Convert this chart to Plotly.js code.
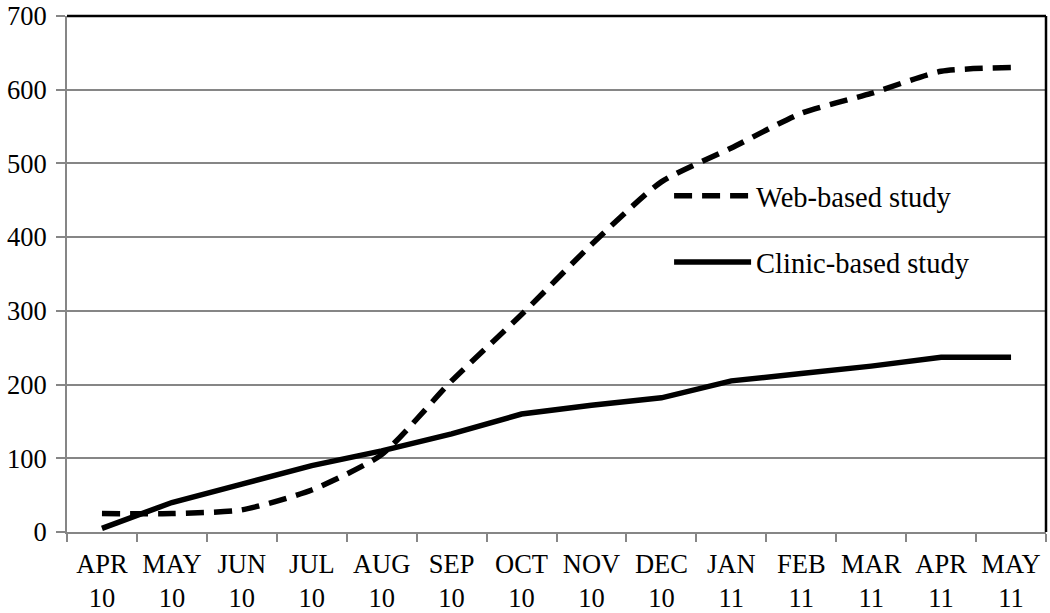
<!DOCTYPE html>
<html>
<head>
<meta charset="utf-8">
<script src="https://cdn.plot.ly/plotly-3.0.1.min.js"></script>
<style>html,body{margin:0;padding:0;background:#fff;}#chart{width:1050px;height:613px;}</style>
</head>
<body>
<div id="chart"></div>
<script>
const months = ["APR<br>10","MAY<br>10","JUN<br>10","JUL<br>10","AUG<br>10","SEP<br>10","OCT<br>10","NOV<br>10","DEC<br>10","JAN<br>11","FEB<br>11","MAR<br>11","APR<br>11","MAY<br>11"];
const webBased = [25, 25, 30, 57, 105, 205, 295, 390, 475, 521, 568, 595, 625, 630];
const clinicBased = [5, 40, 65, 90, 110, 133, 160, 172, 182, 205, 215, 225, 237, 237];
const yTicks = [0, 100, 200, 300, 400, 500, 600, 700];

const font = "Liberation Serif";
const traces = [
  {x: months, y: webBased, type: "scatter", mode: "lines", name: "Web-based study", legendgroup: "w",
   line: {color: "#000", width: 5.5, dash: "18px,10px", shape: "spline", smoothing: 0.6}},
  {x: months, y: clinicBased, type: "scatter", mode: "lines", name: "Clinic-based study", legendgroup: "c",
   line: {color: "#000", width: 5.5}}
];
const layout = {
  width: 1050, height: 613,
  margin: {l: 67, r: 4, t: 16, b: 81},
  paper_bgcolor: "#fff", plot_bgcolor: "#fff",
  font: {family: font, size: 26.5, color: "#000"},
  showlegend: true,
  legend: {x: 0.615, y: 0.70, xanchor: "left", yanchor: "top", bgcolor: "rgba(0,0,0,0)",
           font: {family: font, size: 28.5, color: "#000"}, itemwidth: 77, tracegroupgap: 26,
           traceorder: "grouped"},
  xaxis: {type: "category", range: [-0.5, 13.5], tickson: "boundaries", ticks: "outside",
          ticklen: 8, tickwidth: 2, tickcolor: "#868686", showline: true, linecolor: "#868686",
          linewidth: 2, showgrid: false, zeroline: false, fixedrange: true, tickangle: 0,
          ticklabelstandoff: 7,
          tickfont: {family: font, size: 26.5, color: "#000"}},
  yaxis: {range: [0, 700], tickvals: yTicks, ticktext: yTicks.map(String), ticks: "outside",
          ticklen: 9, tickwidth: 2, tickcolor: "#868686", showline: true, linecolor: "#868686",
          linewidth: 2, showgrid: true, gridcolor: "#868686", gridwidth: 2, zeroline: false,
          ticklabelstandoff: 4,
          tickfont: {family: font, size: 26.5, color: "#000"}},
  shapes: [
    {type: "line", xref: "paper", yref: "paper", x0: 0, x1: 1, y0: 1, y1: 1, line: {color: "#000", width: 2.5}},
    {type: "line", xref: "paper", yref: "paper", x0: 1, x1: 1, y0: 0, y1: 1, line: {color: "#000", width: 2.5}}
  ]
};
Plotly.newPlot("chart", traces, layout, {displayModeBar: false, staticPlot: true});
</script>
</body>
</html>
